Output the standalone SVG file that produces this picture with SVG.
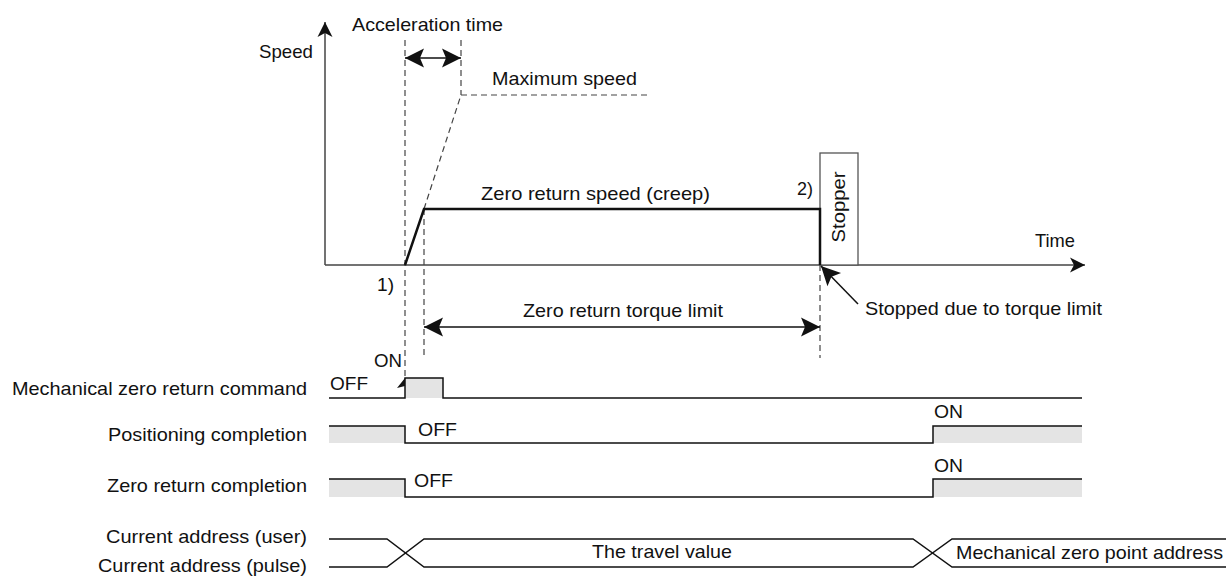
<svg xmlns="http://www.w3.org/2000/svg" width="1229" height="579" viewBox="0 0 1229 579">
<style>
text{font-family:"Liberation Sans",Arial,sans-serif;font-size:19px;fill:#111}
.ax{stroke:#444;stroke-width:1.5;fill:none}
.dash{stroke:#444;stroke-width:1.2;stroke-dasharray:6,4;fill:none}
.sig{stroke:#111;stroke-width:1.5;fill:none}
.thick{stroke:#111;stroke-width:2.5;fill:none;stroke-linejoin:miter}
.fill{fill:#e4e4e4;stroke:none}
.arr{stroke:#111;stroke-width:1.5;fill:none}
</style>
<defs>
<marker id="ah" viewBox="-20 -11 21 22" refX="0" refY="0" markerWidth="21" markerHeight="22" markerUnits="userSpaceOnUse" orient="auto-start-reverse">
<path d="M0,0 L-19,-9.5 L-15,0 L-19,9.5 Z" fill="#111"/>
</marker>
<marker id="axh" viewBox="-16 -8 17 16" refX="0" refY="0" markerWidth="17" markerHeight="16" markerUnits="userSpaceOnUse" orient="auto">
<path d="M0,0 L-15,-7.5 L-11,0 L-15,7.5 Z" fill="#111"/>
</marker>
</defs>

<g id="axes">
<line class="ax" x1="325" y1="265" x2="325" y2="22" marker-end="url(#axh)"/>
<line class="ax" x1="325" y1="265" x2="1085" y2="265" marker-end="url(#axh)"/>
<text x="259" y="58" textLength="54" lengthAdjust="spacingAndGlyphs">Speed</text>
<text x="1035" y="247" textLength="40" lengthAdjust="spacingAndGlyphs">Time</text>
</g>

<g id="guides">
<line class="dash" x1="405" y1="40" x2="405" y2="378"/>
<line class="dash" x1="461" y1="40" x2="461" y2="95"/>
<line class="dash" x1="424" y1="209" x2="424" y2="356"/>
<line class="dash" x1="820" y1="265" x2="820" y2="358"/>
<line class="dash" x1="424" y1="209" x2="461" y2="95"/>
<line class="dash" x1="461" y1="95" x2="650" y2="95"/>
</g>

<g id="stopper">
<rect x="820" y="153" width="38" height="112" fill="#fff" stroke="#555" stroke-width="1.3"/>
<text transform="translate(845,207) rotate(-90)" text-anchor="middle" textLength="71" lengthAdjust="spacingAndGlyphs">Stopper</text>
</g>

<g id="speed-profile">
<polyline class="thick" points="405,265 424,209 820,209 820,265"/>
<text x="481" y="200" textLength="229" lengthAdjust="spacingAndGlyphs">Zero return speed (creep)</text>
<text x="797" y="195" textLength="16" lengthAdjust="spacingAndGlyphs">2)</text>
<text x="377" y="291" textLength="17" lengthAdjust="spacingAndGlyphs">1)</text>
</g>

<g id="labels-top">
<text x="352" y="31" textLength="151" lengthAdjust="spacingAndGlyphs">Acceleration time</text>
<text x="492" y="85" textLength="145" lengthAdjust="spacingAndGlyphs">Maximum speed</text>
<text x="523" y="317" textLength="200" lengthAdjust="spacingAndGlyphs">Zero return torque limit</text>
<text x="865" y="315" textLength="237" lengthAdjust="spacingAndGlyphs">Stopped due to torque limit</text>
</g>

<g id="connectors">
<line class="arr" x1="405" y1="58" x2="461" y2="58" marker-start="url(#ah)" marker-end="url(#ah)"/>
<line class="arr" x1="424" y1="327" x2="820" y2="327" marker-start="url(#ah)" marker-end="url(#ah)"/>
<line class="arr" stroke-width="1.2" x1="858" y1="304" x2="821" y2="266" marker-end="url(#ah)"/>
<path d="M405,378 L413,388 L405,386 L397,388 Z" fill="#111"/>
</g>

<g id="sig-command">
<rect class="fill" x="405" y="378" width="38" height="20"/>
<polyline class="sig" points="329,398 405,398 405,378 443,378 443,398 1082,398"/>
<text x="307" y="395" text-anchor="end" textLength="295" lengthAdjust="spacingAndGlyphs">Mechanical zero return command</text>
<text x="330" y="390" textLength="38" lengthAdjust="spacingAndGlyphs">OFF</text>
<text x="374" y="367" textLength="28" lengthAdjust="spacingAndGlyphs">ON</text>
</g>

<g id="sig-positioning">
<rect class="fill" x="329" y="426" width="76" height="17"/>
<rect class="fill" x="933" y="426" width="149" height="17"/>
<polyline class="sig" points="329,426 405,426 405,443 933,443 933,426 1082,426"/>
<text x="307" y="441" text-anchor="end" textLength="199" lengthAdjust="spacingAndGlyphs">Positioning completion</text>
<text x="418" y="436" textLength="39" lengthAdjust="spacingAndGlyphs">OFF</text>
<text x="934" y="418" textLength="29" lengthAdjust="spacingAndGlyphs">ON</text>
</g>

<g id="sig-zero-return">
<rect class="fill" x="329" y="479" width="76" height="18"/>
<rect class="fill" x="933" y="479" width="149" height="18"/>
<polyline class="sig" points="329,479 405,479 405,497 933,497 933,479 1082,479"/>
<text x="307" y="492" text-anchor="end" textLength="200" lengthAdjust="spacingAndGlyphs">Zero return completion</text>
<text x="414" y="487" textLength="39" lengthAdjust="spacingAndGlyphs">OFF</text>
<text x="934" y="472" textLength="29" lengthAdjust="spacingAndGlyphs">ON</text>
</g>

<g id="sig-address">
<path class="sig" stroke-width="1.2" d="M329,539 H387 L424,567 H913 L952,539 H1226"/>
<path class="sig" stroke-width="1.2" d="M329,567 H387 L424,539 H913 L952,567 H1226"/>
<text x="307" y="543" text-anchor="end" textLength="201" lengthAdjust="spacingAndGlyphs">Current address (user)</text>
<text x="307" y="572" text-anchor="end" textLength="209" lengthAdjust="spacingAndGlyphs">Current address (pulse)</text>
<text x="592" y="558" textLength="140" lengthAdjust="spacingAndGlyphs">The travel value</text>
<text x="956" y="559" textLength="267" lengthAdjust="spacingAndGlyphs">Mechanical zero point address</text>
</g>
</svg>
